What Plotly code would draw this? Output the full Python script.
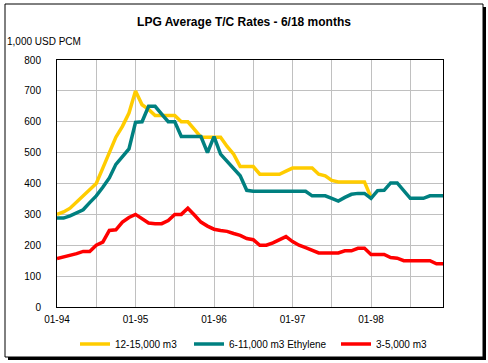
import plotly.graph_objects as go

# ---- data ----
years = [94, 95, 96, 97, 98]
months = [f"{m:02d}-{y:02d}" for y in years for m in range(1, 13)]

lpg_12_15 = [300, 308, 320, 340, 358, 378, 400, 450, 500, 550, 585, 628,
             700, 655, 640, 620, 620, 620, 620, 600, 600, 575, 550, 550,
             550, 550, 520, 495, 455, 455, 455, 430, 430, 430, 430, 440,
             450, 450, 450, 450, 430, 425, 410, 405, 405, 405, 405, 405,
             355]
eth_6_11 = [288, 288, 295, 305, 315, 338, 360, 388, 418, 462, 485, 512,
            598, 600, 650, 650, 625, 600, 600, 552, 552, 552, 552, 500,
            552, 495, 473, 450, 425, 378, 375, 375, 375, 375, 375, 375,
            375, 375, 375, 360, 360, 360, 352, 343, 355, 365, 368, 368,
            352, 377, 378, 402, 402, 378, 352, 352, 352, 360, 360, 360]
lpg_3_5 = [157, 162, 167, 173, 180, 180, 200, 210, 248, 250, 275, 290,
           300, 285, 272, 270, 270, 280, 300, 300, 320, 298, 275, 262,
           252, 248, 245, 238, 232, 222, 218, 200, 200, 208, 218, 228,
           212, 200, 192, 182, 175, 175, 175, 175, 182, 182, 190, 190,
           170, 170, 170, 160, 158, 150, 150, 150, 150, 150, 140, 140]

series_names = ["12-15,000 m3", "6-11,000 m3 Ethylene", "3-5,000 m3"]
series_colors = ["#FFCC00", "#008080", "#FF0000"]
y_ticks = [0, 100, 200, 300, 400, 500, 600, 700, 800]

FONT = "Liberation Sans Narrow, Arial Narrow, Liberation Sans, Arial, sans-serif"

W, H = 488, 363
L, R, T, B = 57, 443, 60, 307  # plot area pixels


def px(x):
    return (x - L) / (R - L)


def py(y):
    return (B - y) / (B - T)


fig = go.Figure()
all_series = [lpg_12_15, eth_6_11, lpg_3_5]
legend_ids = ["legend", "legend2", "legend3"]
for name, col, vals, lg in zip(series_names, series_colors, all_series, legend_ids):
    fig.add_trace(go.Scatter(
        x=months[:len(vals)], y=vals, mode="lines", name=name,
        line=dict(color=col, width=3.5), legend=lg,
    ))

tick_idx = list(range(0, len(months), 6))
fig.update_xaxes(
    type="category", categoryorder="array", categoryarray=months,
    range=[0, len(months) - 1],
    tickvals=[months[i] for i in tick_idx],
    ticktext=[months[i] if i % 12 == 0 else "" for i in tick_idx],
    showgrid=True, gridcolor="#C0C0C0", gridwidth=1,
    showline=True, linecolor="black", linewidth=1, mirror=True,
    ticks="", ticklabelstandoff=3,
    tickfont=dict(family=FONT, size=10, color="black"),
    zeroline=False,
)
fig.update_yaxes(
    range=[0, 800], tickvals=y_ticks,
    showgrid=True, gridcolor="#C0C0C0", gridwidth=1,
    showline=True, linecolor="black", linewidth=1, mirror=True,
    ticks="", ticklabelstandoff=13,
    tickfont=dict(family=FONT, size=10, color="black"),
    zeroline=False,
)

leg_common = dict(orientation="h", yanchor="middle", y=py(344), xanchor="left",
                  bgcolor="rgba(0,0,0,0)", borderwidth=0,
                  font=dict(family=FONT, size=10, color="black"),
                  itemwidth=30, tracegroupgap=0)
fig.update_layout(
    width=W, height=H,
    margin=dict(l=L, r=W - R, t=T, b=H - B, pad=0, autoexpand=False),
    paper_bgcolor="white", plot_bgcolor="rgba(0,0,0,0)",
    showlegend=True,
    hovermode=False,
    legend=dict(x=px(75), **leg_common),
    legend2=dict(x=px(189), **leg_common),
    legend3=dict(x=px(336), **leg_common),
    title=dict(text="LPG Average T/C Rates - 6/18 months",
               x=0.5, xref="container", xanchor="center",
               y=1 - 22 / H, yref="container", yanchor="middle",
               font=dict(family="Liberation Sans, Arial, sans-serif", size=12,
                         color="black", weight="bold")),
    shapes=[
        dict(type="rect", xref="paper", yref="paper", layer="below",
             x0=px(8), x1=px(486), y0=py(7), y1=py(360),
             fillcolor="black", line=dict(width=0)),
        dict(type="rect", xref="paper", yref="paper", layer="below",
             x0=px(5), x1=px(483), y0=py(4), y1=py(357),
             fillcolor="white", line=dict(color="black", width=1)),
    ],
    annotations=[
        dict(text="1,000 USD PCM", xref="paper", yref="paper",
             x=px(5), y=py(42), xanchor="left", yanchor="middle",
             showarrow=False, font=dict(family=FONT, size=10, color="black")),
    ],
)

fig.write_html("out.html",
               config={"displayModeBar": False},
               post_script="document.body.style.margin='0px';"
                           "document.body.style.overflow='hidden';")
